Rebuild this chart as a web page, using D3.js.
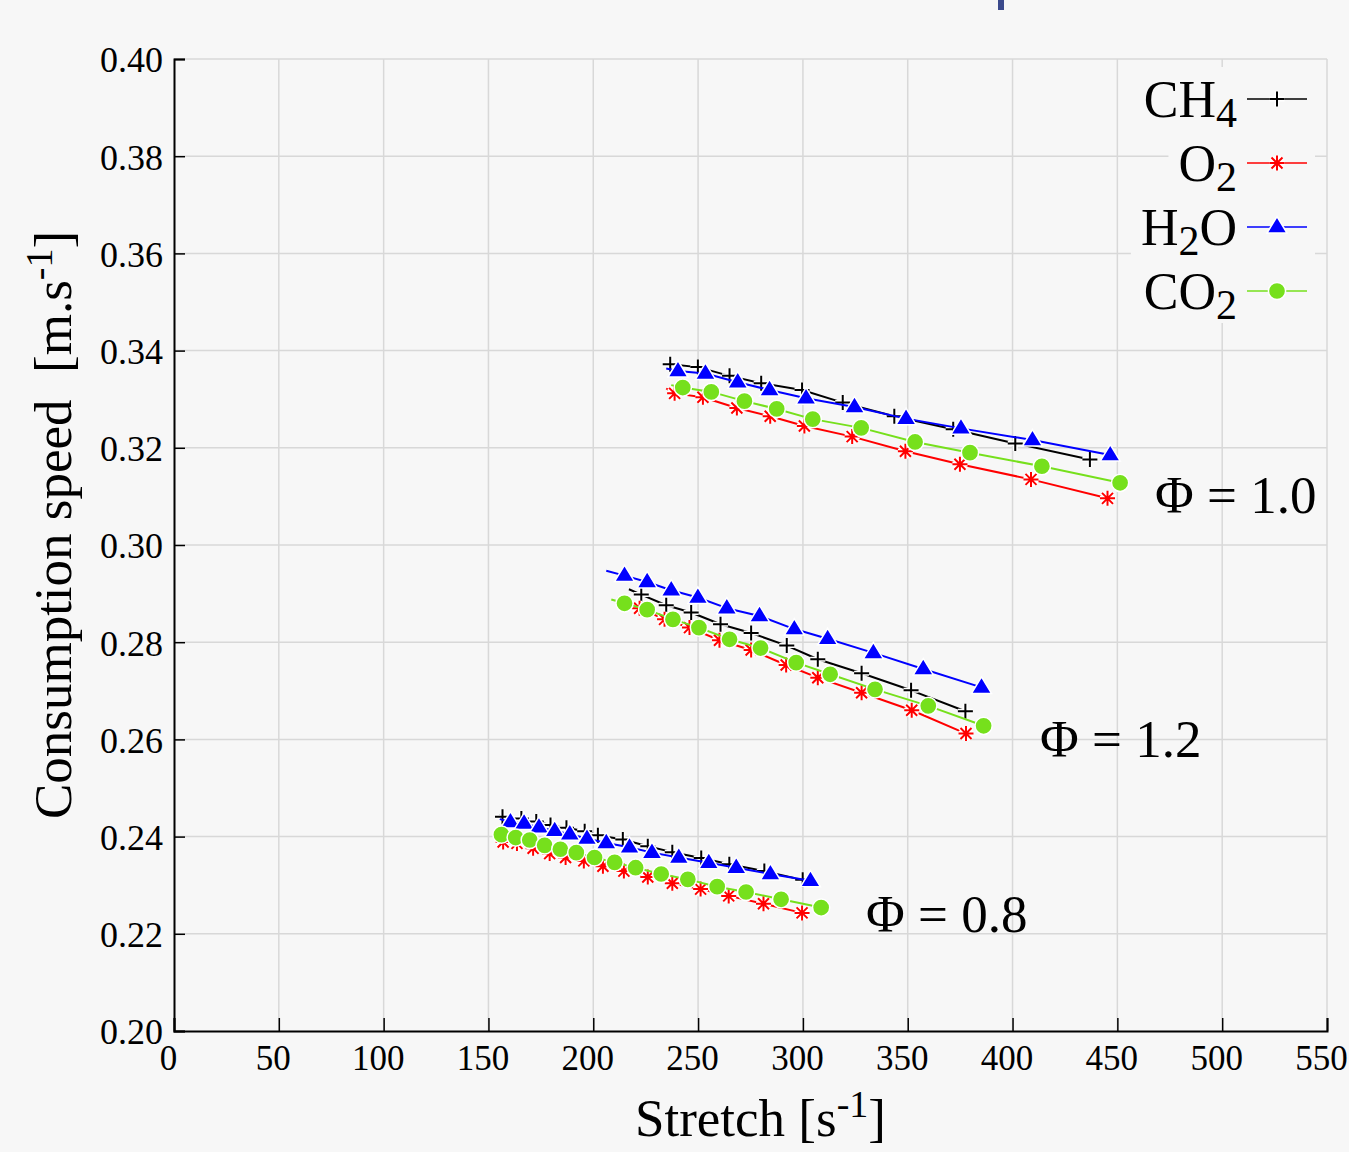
<!DOCTYPE html>
<html lang="en">
<head>
  <meta charset="UTF-8" />
  <title>Consumption speed vs stretch</title>
  <style>
    html, body { margin: 0; padding: 0; background: #f7f7f7; }
    svg { display: block; font-family: "Liberation Serif", "DejaVu Serif", serif; }
    .grid line { stroke: #d8d8d8; stroke-width: 1.5; }
  </style>
  <script src="https://cdn.jsdelivr.net/npm/d3@7"></script>
</head>
<body>
<svg id="chart" width="1349" height="1152"></svg>
<script>
  // axis ticks
  const xTicks = [0, 50, 100, 150, 200, 250, 300, 350, 400, 450, 500, 550];
  const yTicks = [0.20, 0.22, 0.24, 0.26, 0.28, 0.30, 0.32, 0.34, 0.36, 0.38, 0.40];

  const species = ["CH4", "O2", "H2O", "CO2"];

  // [stretch, consumption speed]; first point of every list is line-only (no marker)
  const phi10_CH4 = [[234.5,0.3374],[236.7,0.3372],[249.9,0.3366],[265.0,0.3348],[280.1,0.3333],[299.6,0.3319],[319.0,0.3293],[343.6,0.3265],[371.7,0.3238],[401.3,0.3209],[436.9,0.3176]];
  const phi10_O2  = [[234.8,0.3322],[238.8,0.3312],[252.3,0.3304],[268.5,0.3282],[284.4,0.3265],[300.7,0.3245],[323.5,0.3223],[348.9,0.3193],[374.9,0.3166],[408.8,0.3135],[445.3,0.3096]];
  const phi10_H2O = [[234.8,0.3363],[240.4,0.3358],[253.5,0.3353],[268.9,0.3335],[284.1,0.3319],[301.5,0.3302],[324.6,0.3284],[349.2,0.3260],[375.4,0.3240],[409.5,0.3216],[446.6,0.3185]];
  const phi10_CO2 = [[237.2,0.3329],[242.7,0.3324],[256.3,0.3315],[272.1,0.3296],[287.5,0.3280],[304.7,0.3259],[327.8,0.3241],[353.5,0.3212],[379.7,0.3190],[414.0,0.3162],[451.3,0.3128]];

  const phi12_CH4 = [[217.0,0.2909],[222.9,0.2898],[234.8,0.2876],[246.7,0.2861],[260.7,0.2837],[275.3,0.2819],[292.3,0.2793],[307.1,0.2765],[328.0,0.2736],[351.6,0.2701],[377.5,0.2658]];
  const phi12_O2  = [[220.5,0.2876],[222.1,0.2870],[234.0,0.2847],[245.9,0.2830],[260.2,0.2804],[275.3,0.2784],[292.0,0.2753],[307.1,0.2727],[328.0,0.2696],[351.9,0.2660],[377.8,0.2612]];
  const phi12_H2O = [[206.2,0.2947],[214.9,0.2937],[225.7,0.2924],[237.2,0.2907],[249.9,0.2892],[263.7,0.2870],[279.3,0.2854],[295.9,0.2827],[311.8,0.2807],[333.6,0.2778],[357.4,0.2745],[385.2,0.2707]];
  const phi12_CO2 = [[208.6,0.2888],[214.9,0.2880],[225.7,0.2867],[238.0,0.2847],[250.4,0.2830],[265.0,0.2806],[279.8,0.2788],[296.8,0.2758],[313.0,0.2734],[334.4,0.2703],[359.8,0.2669],[386.2,0.2628]];

  const phi08_CH4 = [[154.9,0.2444],[156.7,0.2441],[165.7,0.2437],[172.8,0.2431],[179.6,0.2424],[187.2,0.2418],[195.9,0.2411],[202.2,0.2403],[214.1,0.2394],[226.0,0.2380],[237.7,0.2368],[251.5,0.2356],[264.9,0.2343],[281.6,0.2329],[299.9,0.2311]];
  const phi08_O2  = [[154.9,0.2397],[157.0,0.2389],[163.6,0.2386],[171.3,0.2376],[179.2,0.2365],[186.8,0.2357],[195.5,0.2350],[204.6,0.2339],[214.6,0.2329],[226.0,0.2317],[237.7,0.2304],[251.2,0.2292],[264.6,0.2278],[281.2,0.2262],[299.6,0.2243]];
  const phi08_H2O = [[155.4,0.2436],[160.5,0.2430],[167.0,0.2427],[174.1,0.2419],[181.6,0.2412],[188.8,0.2405],[197.0,0.2396],[206.2,0.2387],[217.3,0.2378],[228.0,0.2367],[240.8,0.2357],[255.1,0.2346],[268.2,0.2336],[284.5,0.2323],[303.6,0.2309]];
  const phi08_CO2 = [[153.9,0.2409],[156.2,0.2404],[163.0,0.2398],[169.7,0.2393],[176.8,0.2382],[184.3,0.2374],[191.9,0.2367],[200.6,0.2357],[210.2,0.2347],[220.2,0.2336],[232.4,0.2323],[245.1,0.2312],[259.1,0.2297],[272.9,0.2286],[289.6,0.2271],[308.7,0.2254]];

  const phiLabels = ["1.0", "1.2", "0.8"];
  const phiLabelPos = [[1155, 513], [1040, 757], [866, 932]];

  const svg = d3.select("#chart");
  const W = 1349, H = 1152;

  svg.append("rect").attr("width", W).attr("height", H).attr("fill", "#f7f7f7");
  // clipped bit of something above the plot
  svg.append("rect").attr("x", 998).attr("y", 0).attr("width", 6).attr("height", 10).attr("fill", "#3b4a8c");

  const x = d3.scaleLinear().domain([0, 550]).range([174, 1327]);
  const y = d3.scaleLinear().domain([0.20, 0.40]).range([1031, 59]);

  // grid
  const grid = svg.append("g").attr("class", "grid");
  grid.selectAll(".vx").data(xTicks.slice(1)).enter().append("line")
    .attr("x1", d => x(d)).attr("x2", d => x(d)).attr("y1", y(0.20)).attr("y2", y(0.40));
  grid.selectAll(".hy").data(yTicks.slice(1)).enter().append("line")
    .attr("x1", x(0)).attr("x2", x(550)).attr("y1", d => y(d)).attr("y2", d => y(d));

  // axes (ticks inward)
  const xAxis = svg.append("g")
    .attr("transform", `translate(0,${y(0.20)})`)
    .call(d3.axisBottom(x).tickValues(xTicks).tickSize(-13).tickFormat(d3.format("d")));
  xAxis.selectAll("text").attr("dy", null).attr("y", 39).attr("dx", -6).attr("fill", "#000")
    .style("font-family", "Liberation Serif").style("font-size", "35px");

  const yAxis = svg.append("g")
    .attr("transform", `translate(${x(0)},0)`)
    .call(d3.axisLeft(y).tickValues(yTicks).tickSize(-11).tickFormat(d3.format(".2f")));
  yAxis.selectAll("text").attr("x", -11).attr("dy", "0.36em").attr("fill", "#000")
    .style("font-family", "Liberation Serif").style("font-size", "36px");

  [xAxis, yAxis].forEach(a => {
    a.select(".domain").attr("stroke", "#000").attr("stroke-width", 2);
    a.selectAll(".tick line").attr("stroke", "#000").attr("stroke-width", 1.5);
  });

  // axis titles
  const xt = svg.append("text").attr("x", 635).attr("y", 1136)
    .style("font-size", "53px").attr("fill", "#000");
  xt.append("tspan").text("Stretch [s");
  xt.append("tspan").attr("dy", -19).style("font-size", "38px").text("-1");
  xt.append("tspan").attr("dy", 19).text("]");

  const yt = svg.append("text")
    .attr("transform", "translate(71,525) rotate(-90)")
    .attr("text-anchor", "middle")
    .style("font-size", "53px").style("white-space", "pre").attr("fill", "#000");
  yt.append("tspan").text("Consumption speed  [m.s");
  yt.append("tspan").attr("dy", -19).style("font-size", "38px").text("-1");
  yt.append("tspan").attr("dy", 19).text("]");

  // series styling
  const colors = { CH4: "#000000", O2: "#ff0000", H2O: "#0000ff", CO2: "#76e01c" };
  const markerPath = {
    CH4: "M-7.5,0H7.5M0,-7.5V7.5",
    O2: "M-7.5,0H7.5M0,-7.5V7.5M-5.5,-5.5L5.5,5.5M-5.5,5.5L5.5,-5.5",
    H2O: "M0,-10.5L10,6L-10,6Z"
  };

  function drawMarker(g, sp, cx, cy) {
    const col = colors[sp];
    if (sp === "CO2") {
      g.append("circle").attr("cx", cx).attr("cy", cy).attr("r", 8.6)
        .attr("fill", col).attr("stroke", "#fff").attr("stroke-width", 1.5);
    } else if (sp === "H2O") {
      g.append("path").attr("d", markerPath.H2O).attr("transform", `translate(${cx},${cy})`)
        .attr("fill", col).attr("stroke", "#fff").attr("stroke-width", 1.5);
    } else {
      g.append("path").attr("d", markerPath[sp]).attr("transform", `translate(${cx},${cy})`)
        .attr("fill", "none").attr("stroke", "#fff").attr("stroke-width", 5);
      g.append("path").attr("d", markerPath[sp]).attr("transform", `translate(${cx},${cy})`)
        .attr("fill", "none").attr("stroke", col).attr("stroke-width", 2);
    }
  }

  const series = [
    { sp: "CH4", pts: phi10_CH4 }, { sp: "O2", pts: phi10_O2 }, { sp: "H2O", pts: phi10_H2O }, { sp: "CO2", pts: phi10_CO2 },
    { sp: "CH4", pts: phi12_CH4 }, { sp: "O2", pts: phi12_O2 }, { sp: "H2O", pts: phi12_H2O }, { sp: "CO2", pts: phi12_CO2 },
    { sp: "CH4", pts: phi08_CH4 }, { sp: "O2", pts: phi08_O2 }, { sp: "H2O", pts: phi08_H2O }, { sp: "CO2", pts: phi08_CO2 }
  ];

  const line = d3.line().x(d => x(d[0])).y(d => y(d[1]));
  const plot = svg.append("g");
  series.forEach(s => {
    const g = plot.append("g");
    g.append("path").attr("d", line(s.pts)).attr("fill", "none")
      .attr("stroke", colors[s.sp]).attr("stroke-width", 2).attr("stroke-linejoin", "round");
    s.pts.slice(1).forEach(p => drawMarker(g, s.sp, x(p[0]), y(p[1])));
  });

  // phi labels
  phiLabels.forEach((t, i) => {
    svg.append("text").attr("x", phiLabelPos[i][0]).attr("y", phiLabelPos[i][1])
      .style("font-size", "53px").attr("fill", "#000").text("\u03A6 = " + t);
  });

  // legend
  const legRows = [99, 163, 227, 291];
  const legend = svg.append("g");
  species.forEach((sp, i) => {
    const ry = legRows[i];
    const row = legend.append("g");
    const bg = row.append("rect").attr("fill", "#f7f7f7");
    const t = row.append("text").attr("x", 1237).attr("y", ry + 18).attr("text-anchor", "end")
      .style("font-size", "52px").attr("fill", "#000");
    const m = sp.match(/^([A-Z]+)(\d)?([A-Z]*)$/);
    t.append("tspan").text(m[1]);
    if (m[2]) t.append("tspan").attr("dy", 10).style("font-size", "42px").text(m[2]);
    if (m[3]) t.append("tspan").attr("dy", -10).text(m[3]);
    const bb = t.node().getBBox();
    bg.attr("x", bb.x - 10).attr("y", ry - 32).attr("width", 1315 - bb.x + 10).attr("height", 64);
    row.append("line").attr("x1", 1247).attr("x2", 1307).attr("y1", ry).attr("y2", ry)
      .attr("stroke", colors[sp]).attr("stroke-width", 1.6);
    drawMarker(row, sp, 1277, ry);
  });
</script>
</body>
</html>
